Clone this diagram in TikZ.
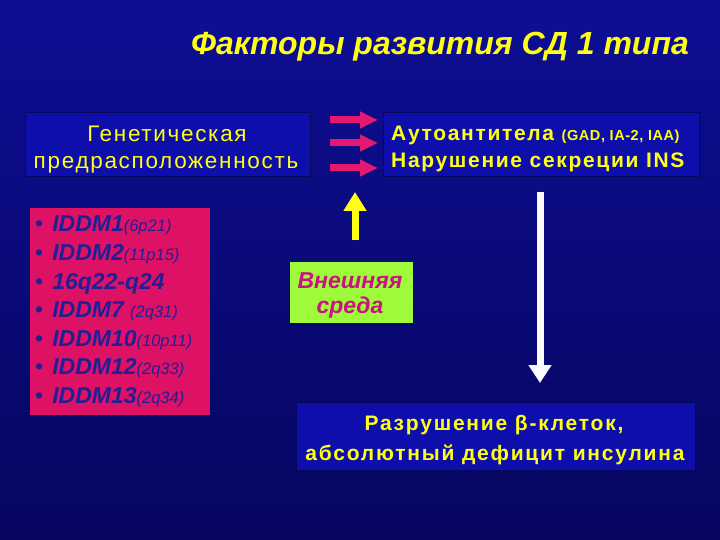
\documentclass[tikz,border=0pt]{standalone}
\usepackage{fontspec}
\setmainfont{Liberation Sans}
\newfontfamily\spacedA[LetterSpace=7.5]{Liberation Sans}
\newfontfamily\spacedB[LetterSpace=8]{Liberation Sans}
\newfontfamily\spacedC[LetterSpace=8.5]{Liberation Sans}
\newfontfamily\spacedD[LetterSpace=4]{Liberation Sans}
\usetikzlibrary{arrows.meta}
\definecolor{bgtop}{RGB}{14,14,148}
\definecolor{bgbot}{RGB}{6,6,96}
\definecolor{boxblue}{RGB}{14,14,170}
\definecolor{boxedge}{RGB}{6,6,90}
\definecolor{ylw}{RGB}{255,255,20}
\definecolor{pinkfill}{RGB}{222,18,100}
\definecolor{pinkarrow}{RGB}{228,24,112}
\definecolor{listtext}{RGB}{34,30,150}
\definecolor{lime}{RGB}{158,250,58}
\definecolor{magtext}{RGB}{200,20,128}
\definecolor{whitearrow}{RGB}{250,250,255}
\newcommand{\genename}[1]{{\fontsize{23}{26}\selectfont\bfseries\itshape #1}}
\newcommand{\genepos}[1]{{\fontsize{16.5}{18}\selectfont\itshape #1}}
\tikzset{
  bluebox/.style={draw=boxedge, line width=1pt, fill=boxblue, inner sep=0pt},
  ytext/.style={text=ylw, inner sep=0pt},
  listline/.style={anchor=base west, inner sep=0pt, text=listtext, font=\fontsize{23}{26}\selectfont},
  blockarrow/.style={line width=7pt},
}
\begin{document}
\begin{tikzpicture}[x=1pt,y=-1pt]
\useasboundingbox (0,0) rectangle (720,540);
\shade[top color=bgtop,bottom color=bgbot] (0,0) rectangle (720,540);

% title
\node[ytext, anchor=base] (title) at (440,55)
  {\fontsize{32}{38}\selectfont\bfseries\itshape Факторы развития СД 1 типа};

% genetic box
\node[bluebox, minimum width=285pt, minimum height=64pt] (gen) at (167.5,145) {};
\node[ytext, anchor=base] (gen1) at (167,142) {\spacedA\fontsize{22.5}{26}\selectfont Генетическая};
\node[ytext, anchor=base] (gen2) at (166,169) {\spacedA\fontsize{22.5}{26}\selectfont предрасположенность};

% autoantibody box
\node[bluebox, minimum width=316pt, minimum height=64pt] (auto) at (541,145) {};
\node[ytext, anchor=base west] (auto1) at (391,141)
  {\spacedB\fontsize{21}{24}\selectfont\bfseries Аутоантитела {\spacedD\fontsize{14.5}{16}\selectfont\bfseries(GAD, IA-2, IAA)}};
\node[ytext, anchor=base west] (auto2) at (391,168)
  {\spacedB\fontsize{21}{24}\selectfont\bfseries Нарушение секреции INS};

% pink arrows
\coordinate (p1s) at (330,120); \coordinate (p1e) at (378,120);
\coordinate (p2s) at (330,143); \coordinate (p2e) at (378,143);
\coordinate (p3s) at (330,168); \coordinate (p3e) at (378,168);
\foreach \a in {1,2,3}
  \draw[blockarrow, draw=pinkarrow, -{Triangle[width=16pt,length=18pt]}] (p\a s) -- (p\a e);

% gene list box
\node[fill=pinkfill, minimum width=180pt, minimum height=207pt, inner sep=0pt] (genes) at (120,311.5) {};
\node[listline] (g1) at (35,232) {•\hspace{9pt}\genename{IDDM1}\genepos{(6p21)}};
\node[listline] (g2) at (35,260.5) {•\hspace{9pt}\genename{IDDM2}\genepos{(11p15)}};
\node[listline] (g3) at (35,289) {•\hspace{9pt}\genename{16q22-q24}};
\node[listline] (g4) at (35,317.5) {•\hspace{9pt}\genename{IDDM7} \genepos{(2q31)}};
\node[listline] (g5) at (35,346) {•\hspace{9pt}\genename{IDDM10}\genepos{(10p11)}};
\node[listline] (g6) at (35,374.5) {•\hspace{9pt}\genename{IDDM12}\genepos{(2q33)}};
\node[listline] (g7) at (35,403) {•\hspace{9pt}\genename{IDDM13}\genepos{(2q34)}};

% environment box
\fill[boxedge] (289,264) rectangle (414,326);
\node[fill=lime, minimum width=123pt, minimum height=61pt, inner sep=0pt] (env) at (351,292.5) {};
\node[anchor=base, inner sep=0pt, text=magtext] (env1) at (350,288)
  {\fontsize{23}{26}\selectfont\bfseries\itshape Внешняя};
\node[anchor=base, inner sep=0pt, text=magtext] (env2) at (350,313)
  {\fontsize{23}{26}\selectfont\bfseries\itshape среда};

% yellow arrow up
\coordinate (ys) at (355,240);
\coordinate (ye) at (355,192);
\draw[blockarrow, draw=ylw, -{Triangle[width=22pt,length=19pt]}] (ys) -- (ye);

% white arrow down
\coordinate (ws) at (540,192);
\coordinate (we) at (540,383);
\draw[blockarrow, draw=whitearrow, -{Triangle[width=22pt,length=18pt]}] (ws) -- (we);

% result box
\node[bluebox, minimum width=399pt, minimum height=68pt] (res) at (495.5,436) {};
\node[ytext, anchor=base] (res1) at (494,430)
  {\spacedC\fontsize{21}{24}\selectfont\bfseries Разрушение β-клеток,};
\node[ytext, anchor=base] (res2) at (495,460)
  {\spacedC\fontsize{21}{24}\selectfont\bfseries абсолютный дефицит инсулина};
\end{tikzpicture}
\end{document}
